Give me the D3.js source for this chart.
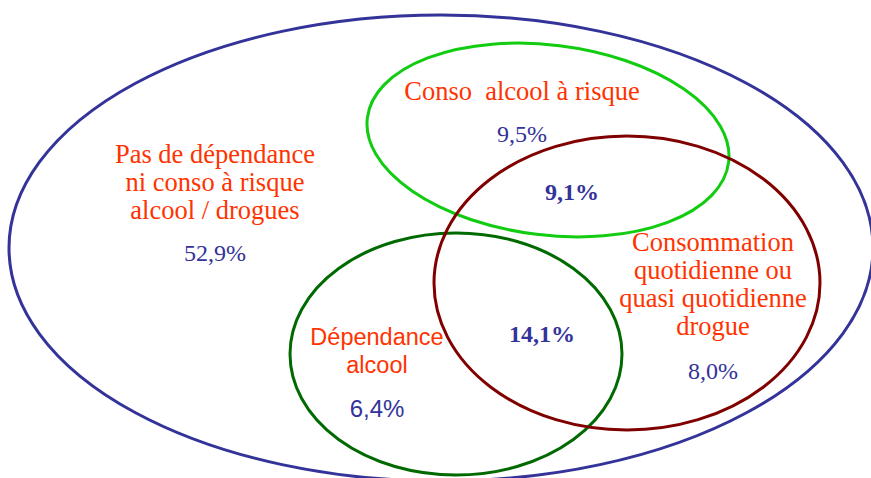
<!DOCTYPE html>
<html>
<head>
<meta charset="utf-8">
<script src="https://cdn.jsdelivr.net/npm/d3@7"></script>
<style>
  body { margin: 0; background: #fff; }
  svg text { white-space: pre; }
  .serif { font-family: "Liberation Serif", "DejaVu Serif", serif; }
  .sans { font-family: "Liberation Sans", Arial, sans-serif; }
</style>
</head>
<body>
<div id="venn"></div>
<script>
// sets and the share of each region (%)
var setNames = ["Population", "Conso alcool à risque", "Consommation drogue", "Dépendance alcool"];
var regionNames = ["Pas de dépendance", "Conso à risque seule", "Risque + drogue", "Drogue seule", "Dépendance + drogue", "Dépendance seule"];
var regionValues = [52.9, 9.5, 9.1, 8.0, 14.1, 6.4];
var regionBold = [false, false, true, false, true, false];
var regionTitles = [
  ["Pas de dépendance", "ni conso à risque", "alcool / drogues"],
  ["Conso  alcool à risque"],
  [],
  ["Consommation", "quotidienne ou", "quasi quotidienne", "drogue"],
  [],
  ["Dépendance", "alcool"]
];

var svgWidth = 871;
var svgHeight = 478;

var svg = d3.select("#venn")
  .append("svg")
  .attr("width", svgWidth)
  .attr("height", svgHeight);

var x = d3.scaleLinear().domain([0, 871]).range([0, svgWidth]);
var y = d3.scaleLinear().domain([0, 478]).range([0, svgHeight]);

// ellipse layout, one per set
var shapes = [
  {cx: 441, cy: 248, rx: 432, ry: 233, rot: 0, color: "#333399"},
  {cx: 548, cy: 140, rx: 182, ry: 95, rot: 7, color: "#11cc11"},
  {cx: 627, cy: 283, rx: 193, ry: 147, rot: 0, color: "#800000"},
  {cx: 456, cy: 354, rx: 166, ry: 121, rot: 0, color: "#006a00"}
];
var drawOrder = [0, 1, 3, 2];

svg.selectAll(".set")
  .data(drawOrder)
  .enter()
  .append("ellipse")
  .attr("class", "set")
  .attr("transform", i => `translate(${x(shapes[i].cx)},${y(shapes[i].cy)}) rotate(${shapes[i].rot})`)
  .attr("rx", i => x(shapes[i].rx) - x(0))
  .attr("ry", i => y(shapes[i].ry) - y(0))
  .attr("fill", "none")
  .attr("stroke", i => shapes[i].color)
  .attr("stroke-width", 3)
  .append("title")
  .text(i => setNames[i]);

// label placement per region
var labelPos = [
  {x: 215, y: 163, vy: 261, sans: false},
  {x: 522, y: 100, vy: 142, sans: false},
  {x: 572, y: 0, vy: 200, sans: false},
  {x: 713, y: 251, vy: 379, sans: false},
  {x: 542, y: 0, vy: 342, sans: false},
  {x: 377, y: 345, vy: 417, sans: true}
];
var fmt = v => d3.format(".1f")(v).replace(".", ",") + "%";

var labels = svg.selectAll(".region")
  .data(regionValues)
  .enter()
  .append("g")
  .attr("class", "region");

labels.each(function(v, i) {
  var g = d3.select(this);
  var p = labelPos[i];
  regionTitles[i].forEach(function(line, k) {
    g.append("text")
      .attr("class", p.sans ? "sans" : "serif")
      .attr("x", x(p.x))
      .attr("y", y(p.y + k * 28))
      .attr("text-anchor", "middle")
      .attr("font-size", p.sans ? 23.5 : 26.5)
      .attr("fill", "#ff3300")
      .text(line);
  });
  g.append("text")
    .attr("class", p.sans ? "sans" : "serif")
    .attr("x", x(p.x))
    .attr("y", y(p.vy))
    .attr("text-anchor", "middle")
    .attr("font-size", 24)
    .attr("font-weight", regionBold[i] ? "bold" : "normal")
    .attr("fill", "#333399")
    .text(fmt(v));
});
</script>
</body>
</html>
